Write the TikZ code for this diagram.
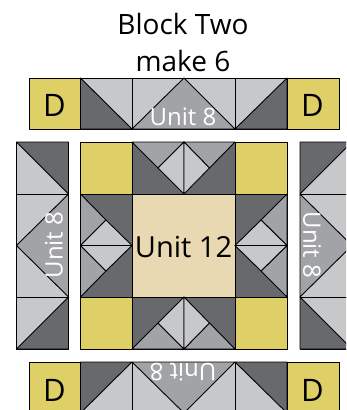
\documentclass[tikz,border=0pt]{standalone}
\usepackage{fontspec}
\setmainfont{Open Sans}
\definecolor{dk}{HTML}{68696C}
\definecolor{lt}{HTML}{C7C8CA}
\definecolor{md}{HTML}{A2A3A6}
\definecolor{yl}{HTML}{DFCF67}
\definecolor{tn}{HTML}{E8D9B2}
\tikzset{
  x=1pt,y=-1pt,
  patch/.style={draw=black,line width=0.9pt,line join=round},
  dkp/.style={patch,fill=dk},
  ltp/.style={patch,fill=lt},
  mdp/.style={patch,fill=md},
  ylp/.style={patch,fill=yl},
  tnp/.style={patch,fill=tn},
  unitw/.style={text=white,font=\fontsize{24}{24}\selectfont,inner sep=0pt},
  blk/.style={text=black,inner sep=0pt},
}
\newcommand{\sq}[5]{\draw[#1] (#2,#3) rectangle (#4,#5);}
\newcommand{\tri}[7]{\draw[#1] (#2,#3) -- (#4,#5) -- (#6,#7) -- cycle;}
\begin{document}
\begin{tikzpicture}
\useasboundingbox (0,0) rectangle (346,410);
\begin{scope}
\clip (0,0) rectangle (346,410);
% top row
\sq{ylp}{29}{78}{80.5}{129}
\sq{ltp}{80.5}{78}{132}{129}
\tri{dkp}{80.5}{78}{80.5}{129}{132}{129}
\sq{ltp}{132}{78}{235}{129}
\tri{mdp}{132}{129}{184}{78}{235}{129}
\sq{ltp}{235}{78}{287}{129}
\tri{dkp}{287}{78}{287}{129}{235}{129}
\sq{ylp}{287}{78}{339}{129}
% bottom row
\sq{ylp}{29}{362}{80.5}{413}
\sq{ltp}{80.5}{362}{132}{413}
\tri{dkp}{80.5}{362}{132}{362}{80.5}{413}
\sq{ltp}{132}{362}{235}{413}
\tri{mdp}{132}{362}{235}{362}{184}{413}
\sq{ltp}{235}{362}{287}{413}
\tri{dkp}{235}{362}{287}{362}{287}{413}
\sq{ylp}{287}{362}{339}{413}
% left column
\sq{ltp}{16.5}{142}{68.5}{194}
\tri{dkp}{16.5}{142}{68.5}{142}{68.5}{194}
\sq{ltp}{16.5}{194}{68.5}{297}
\tri{mdp}{68.5}{194}{68.5}{297}{16.5}{245.5}
\sq{ltp}{16.5}{297}{68.5}{349}
\tri{dkp}{68.5}{297}{68.5}{349}{16.5}{349}
% right column
\sq{ltp}{300}{142}{352}{194}
\tri{dkp}{300}{142}{352}{142}{300}{194}
\sq{ltp}{300}{194}{352}{297}
\tri{mdp}{300}{194}{300}{297}{352}{245.5}
\sq{ltp}{300}{297}{352}{349}
\tri{dkp}{300}{297}{300}{349}{352}{349}
\end{scope}
% centre block corners
\sq{ylp}{80.5}{142}{132}{194}
\sq{ylp}{235}{142}{287}{194}
\sq{ylp}{80.5}{297}{132}{349}
\sq{ylp}{235}{297}{287}{349}
\sq{tnp}{132}{194}{235}{297}
% top star point
\sq{dkp}{132}{142}{235}{194}
\tri{mdp}{132}{142}{184}{142}{158}{168}
\tri{mdp}{184}{142}{235}{142}{209.5}{168}
\tri{ltp}{158}{168}{184}{142}{184}{194}
\tri{ltp}{209.5}{168}{184}{142}{184}{194}
% bottom star point
\sq{dkp}{132}{297}{235}{349}
\tri{mdp}{132}{349}{184}{349}{158}{323}
\tri{mdp}{184}{349}{235}{349}{209.5}{323}
\tri{ltp}{158}{323}{184}{349}{184}{297}
\tri{ltp}{209.5}{323}{184}{349}{184}{297}
% left star point
\sq{dkp}{80.5}{194}{132}{297}
\tri{mdp}{80.5}{194}{80.5}{245.5}{106}{220}
\tri{mdp}{80.5}{245.5}{80.5}{297}{106}{271}
\tri{ltp}{106}{220}{80.5}{245.5}{132}{245.5}
\tri{ltp}{106}{271}{80.5}{245.5}{132}{245.5}
% right star point
\sq{dkp}{235}{194}{287}{297}
\tri{mdp}{287}{194}{287}{245.5}{261}{220}
\tri{mdp}{287}{245.5}{287}{297}{261}{271}
\tri{ltp}{261}{220}{287}{245.5}{235}{245.5}
\tri{ltp}{261}{271}{287}{245.5}{235}{245.5}
% labels
\node[blk,font=\fontsize{28}{28}\selectfont] (title1) at (183,24) {Block Two};
\node[blk,font=\fontsize{28}{28}\selectfont] (title2) at (183,61) {make 6};
\node[blk,font=\fontsize{31}{31}\selectfont] (d1) at (54.5,105) {D};
\node[blk,font=\fontsize{31}{31}\selectfont] (d2) at (312.5,105) {D};
\node[blk,font=\fontsize{31}{31}\selectfont] (d3) at (54.5,390) {D};
\node[blk,font=\fontsize{31}{31}\selectfont] (d4) at (312.5,390) {D};
\node[blk,font=\fontsize{29}{29}\selectfont] (u12) at (183.5,247) {Unit 12};
\node[unitw] (u1) at (183,117) {Unit 8};
\node[unitw,rotate=90] (u2) at (54,245) {Unit 8};
\node[unitw,rotate=-90] (u3) at (312,245) {Unit 8};
\node[unitw,rotate=180] (u4) at (183,372) {Unit 8};
\end{tikzpicture}
\end{document}
